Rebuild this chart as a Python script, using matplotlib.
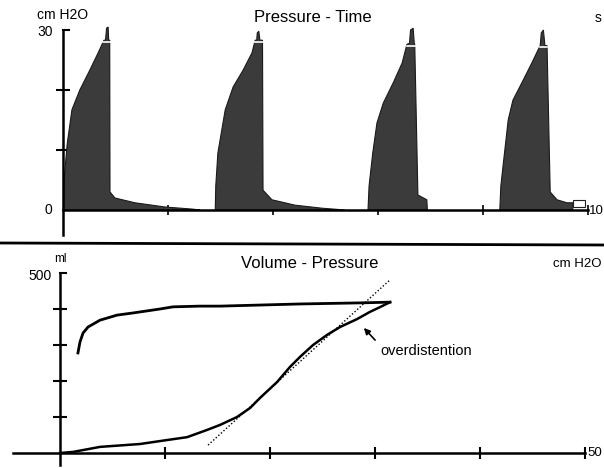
import matplotlib
matplotlib.use("Agg")
import matplotlib.pyplot as plt
from matplotlib.lines import Line2D
from matplotlib.patches import Rectangle

plt.rcParams["font.family"] = ["Liberation Sans", "DejaVu Sans"]

W, H = 604, 468

# Pressure - Time: one breath per pair of arrays (s, cm H2O)
breath1_t = [0.01, 0.03, 0.08, 0.17, 0.32, 0.51, 0.67, 0.78, 0.81, 0.83, 0.86, 0.87, 0.89, 0.895, 0.99, 1.37, 1.94, 2.46, 2.61]
breath1_p = [0, 6, 11, 16.7, 20, 23.3, 26.2, 28.3, 28.3, 30.3, 30.5, 28.3, 28.3, 3.0, 2.0, 1.2, 0.5, 0.15, 0]
breath2_t = [2.90, 2.91, 2.95, 3.09, 3.24, 3.43, 3.60, 3.66, 3.69, 3.70, 3.73, 3.75, 3.80, 3.81, 3.98, 4.42, 4.93, 5.37]
breath2_p = [0, 4, 9.5, 16.7, 20.5, 23.3, 26.2, 28.3, 28.3, 29.5, 29.8, 28.3, 28.3, 3.3, 1.7, 0.8, 0.3, 0]
breath3_t = [5.81, 5.83, 5.90, 5.98, 6.10, 6.29, 6.46, 6.55, 6.60, 6.62, 6.67, 6.69, 6.70, 6.76, 6.93, 6.94]
breath3_p = [0, 4, 9.5, 14.5, 17.8, 21.2, 24.5, 27.6, 27.8, 30, 30.3, 27.8, 27.6, 2.5, 1.7, 0]
breath4_t = [8.32, 8.34, 8.38, 8.48, 8.57, 8.74, 8.93, 9.05, 9.09, 9.11, 9.15, 9.18, 9.22, 9.28, 9.41, 9.60, 9.71, 9.71]
breath4_p = [0, 4, 7.2, 15, 18.3, 21.2, 24.5, 26.7, 27.4, 29.5, 30, 27.4, 27.4, 3.0, 1.7, 1.2, 1.2, 0]

# white marks across each peak (start s, end s, cm H2O)
peak_t0 = [0.76, 3.62, 6.55, 9.09]
peak_t1 = [0.91, 3.81, 6.72, 9.22]
peak_p = [28.0, 28.0, 27.4, 27.2]

# small box at the end of the last tail
box_t = [9.71, 9.94]
box_p = [0.5, 1.7]

# Volume - Pressure loop (cm H2O, ml)
insp_p = [0, 1.24, 3.81, 7.62, 10.19, 12.10, 14.0, 15.24, 16.86, 18.10, 19.05, 20.67, 21.90, 22.86, 24.10, 25.43, 26.67, 28.29, 29.52, 30.67, 31.43]
insp_v = [0, 3, 17, 25, 36, 44, 64, 78, 100, 125, 153, 197, 239, 267, 300, 328, 350, 372, 392, 408, 419]
exp_p = [31.43, 28.57, 22.86, 15.24, 13.33, 10.76, 9.52, 6.95, 5.43, 3.81, 2.67, 2.19, 1.90, 1.71]
exp_v = [419, 417, 414, 408, 408, 406, 400, 389, 383, 369, 350, 333, 308, 278]
tangent_p = [14.1, 31.43]
tangent_v = [22, 481]


def px_axes(fig, left, top, right, bottom):
    return fig.add_axes([left / W, 1 - bottom / H, (right - left) / W, (bottom - top) / H])


def ftext(fig, x, y, s, **kw):
    kw.setdefault("va", "center")
    kw.setdefault("fontsize", 10)
    return fig.text(x / W, 1 - y / H, s, **kw)


fig = plt.figure(figsize=(W / 100, H / 100), dpi=100)
fill_col = "#3b3b3b"

# ---- top panel
ax1 = px_axes(fig, 63, 30, 588, 235)
ax1.set_xlim(0, 10)
ax1.set_ylim(-4.17, 30)
for t, p in [(breath1_t, breath1_p), (breath2_t, breath2_p), (breath3_t, breath3_p), (breath4_t, breath4_p)]:
    ax1.fill(t, p, color=fill_col, ec="#1a1a1a", lw=0.8, clip_on=False, zorder=2)
for a, b, p in zip(peak_t0, peak_t1, peak_p):
    ax1.plot([a, b], [p, p], color="white", lw=1.2, clip_on=False, zorder=3)
ax1.add_patch(Rectangle((box_t[0], box_p[0]), box_t[1] - box_t[0], box_p[1] - box_p[0],
                        fc="white", ec="#222222", lw=0.8, clip_on=False, zorder=3))

for s in ["top", "right"]:
    ax1.spines[s].set_visible(False)
ax1.spines["left"].set_linewidth(1.8)
ax1.spines["bottom"].set_position(("data", 0))
ax1.spines["bottom"].set_linewidth(1.8)
ax1.spines["bottom"].set_bounds(0, 10)
ax1.set_xticks([2, 4, 6, 8, 10])
ax1.set_yticks([10, 20])
ax1.tick_params(axis="x", direction="inout", length=7, width=1.2, labelbottom=False)
ax1.tick_params(axis="y", direction="inout", length=10, width=1.5, labelleft=False)
ax1.plot([0, 0.12], [30, 30], color="black", lw=1.5, clip_on=False)
ax1.patch.set_visible(False)

# ---- bottom panel
ax2 = px_axes(fig, 12.75, 273, 585, 465)
ax2.set_xlim(-4.5, 50)
ax2.set_ylim(-33.3, 500)
ax2.plot(insp_p, insp_v, color="black", lw=1.8, solid_joinstyle="miter")
ax2.plot(exp_p, exp_v, color="black", lw=2.0)
ax2.plot(tangent_p, tangent_v, color="black", lw=1.0, linestyle=(0, (1, 1.5)), clip_on=False)
ax2.annotate("", xy=(28.76, 353), xytext=(30.19, 308),
             arrowprops=dict(arrowstyle="-|>", color="black", lw=1.2, mutation_scale=9))

for s in ["top", "right"]:
    ax2.spines[s].set_visible(False)
ax2.spines["left"].set_position(("data", 0))
ax2.spines["left"].set_linewidth(1.8)
ax2.spines["bottom"].set_position(("data", 0))
ax2.spines["bottom"].set_linewidth(1.8)
ax2.set_xticks([10, 20, 30, 40, 50])
ax2.set_yticks([100, 200, 300, 400])
ax2.tick_params(axis="x", direction="inout", length=9, width=1.5, labelbottom=False)
ax2.tick_params(axis="y", direction="inout", length=10, width=1.5, labelleft=False)
ax2.plot([0, 0.6], [500, 500], color="black", lw=1.5, clip_on=False)
ax2.patch.set_visible(False)

# divider between the two panels
fig.add_artist(Line2D([0, 1], [1 - 243 / H, 1 - 245 / H], transform=fig.transFigure, color="black", lw=2))

# texts
ftext(fig, 313, 17, "Pressure - Time", ha="center", fontsize=12)
ftext(fig, 37, 15, "cm H2O", ha="left")
ftext(fig, 53, 32, "30", ha="right")
ftext(fig, 52, 210, "0", ha="right")
ftext(fig, 595, 18, "s", ha="left")
ftext(fig, 589, 211, "10", ha="left", fontsize=9.5)

ftext(fig, 310, 264, "Volume - Pressure", ha="center", fontsize=12)
ftext(fig, 54, 259, "ml", ha="left", fontsize=8.5)
ftext(fig, 52, 276, "500", ha="right")
ftext(fig, 553, 264, "cm H2O", ha="left", fontsize=9.5)
ftext(fig, 587, 453, "50", ha="left", fontsize=9.5)
ftext(fig, 380, 351, "overdistention", ha="left", fontsize=10.5)

fig.savefig("out.png", dpi=100)
plt.close(fig)
